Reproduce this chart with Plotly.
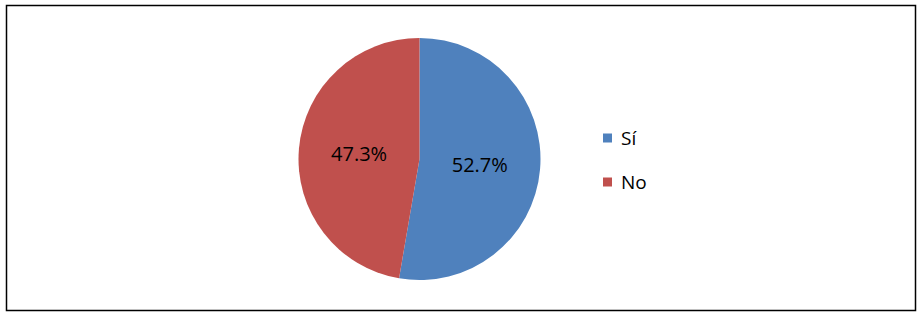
import plotly.graph_objects as go

labels = ["Sí", "No"]
values = [52.7, 47.3]
colors = ["#4F81BD", "#C0504D"]

fig = go.Figure()
fig.add_trace(go.Pie(
    labels=labels,
    values=values,
    marker=dict(colors=colors, line=dict(width=0)),
    sort=False,
    direction="clockwise",
    rotation=0,
    textinfo="percent",
    texttemplate="%{percent:.1%}",
    textposition="inside",
    insidetextorientation="horizontal",
    textfont=dict(family="Open Sans", size=20, color="#000000"),
    domain=dict(x=[298/923, 541/923], y=[1-280/319, 1-38/319]),
    showlegend=False,
    hoverinfo="label+percent",
))

# custom legend
leg_y = [1-138/319, 1-182/319]
for lab, col, yy in zip(labels, colors, leg_y):
    fig.add_shape(type="rect", xref="paper", yref="paper",
                  x0=603/923, x1=612/923, y0=yy-4.5/319, y1=yy+4.5/319,
                  fillcolor=col, line=dict(width=0))
    fig.add_annotation(x=619/923, y=yy, xref="paper", yref="paper",
                       text=lab, showarrow=False, xanchor="left", yanchor="middle",
                       font=dict(family="Open Sans", size=19, color="#000000"))

# outer border
fig.add_shape(type="rect", xref="paper", yref="paper",
              x0=6.5/923, x1=915.5/923, y0=1-310.5/319, y1=1-5.5/319,
              line=dict(color="#000000", width=1.5), fillcolor="rgba(0,0,0,0)")

fig.update_layout(
    width=923, height=319,
    margin=dict(l=0, r=0, t=0, b=0),
    paper_bgcolor="white",
    plot_bgcolor="white",
)

fig.write_html("out.html", config={"displayModeBar": False},
               post_script="document.body.style.margin='0';")
